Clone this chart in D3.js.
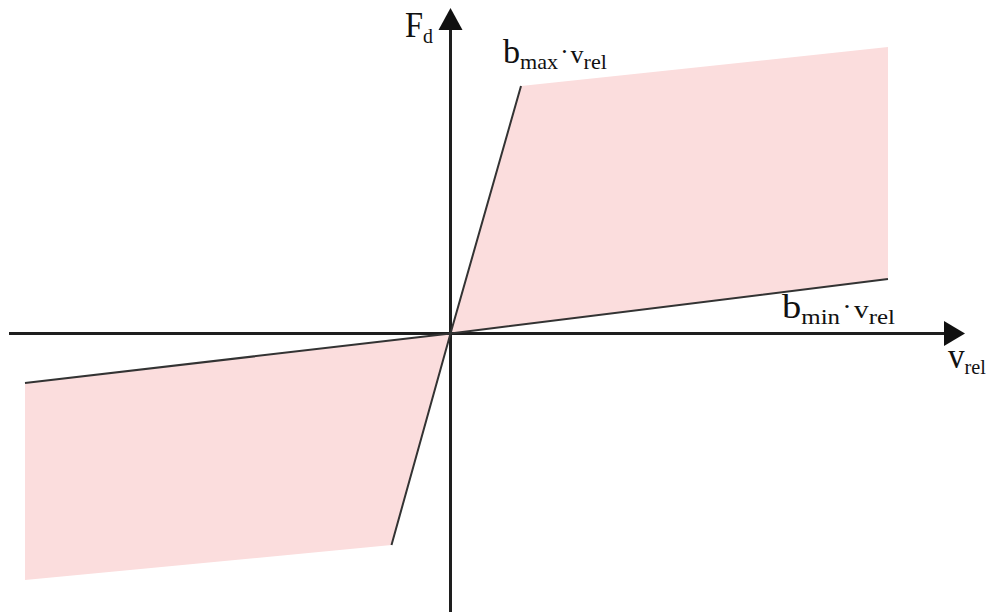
<!DOCTYPE html>
<html>
<head>
<meta charset="utf-8">
<script src="https://cdn.jsdelivr.net/npm/d3@7"></script>
<style>
  html, body { margin: 0; padding: 0; background: #fff; }
  svg { display: block; }
  text { font-family: "Liberation Serif", "Times New Roman", Times, serif; fill: #111; }
</style>
</head>
<body>
<svg id="chart" width="987" height="612"></svg>
<script>
// ---- data (schematic units: v_rel horizontal, F_d vertical) ----
const xDomain = [-4.415, 5.145];     // v_rel axis extent (arrow tip at right)
const yDomain = [-2.785, 3.255];     // F_d axis extent (arrow tip at top)
const bMaxLine = [[-0.59, -2.115], [0, 0], [0.705, 2.475]];
const bMinLine = [[-4.255, -0.495], [0, 0], [4.375, 0.545]];
const upperRegion = [[0, 0], [0.705, 2.475], [4.375, 2.865], [4.375, 0.545]];
const lowerRegion = [[0, 0], [-0.59, -2.115], [-4.255, -2.465], [-4.255, -0.495]];
// label parts: [text, role]
const labelParts = {
  Fd:   [["F", "big"], ["d", "sub"]],
  bmax: [["b", "main"], ["max", "sub"], ["·", "dot"], ["v", "v"], ["rel", "sub"]],
  bmin: [["b", "main"], ["min", "sub"], ["·", "dot"], ["v", "v"], ["rel", "sub"]],
  vrel: [["v", "big"], ["rel", "sub"]]
};
const labelAt = { Fd: [-0.455, 2.965], bmax: [0.525, 2.705], bmin: [3.315, 0.155], vrel: [4.975, -0.345] };

const svg = d3.select("#chart");
const x = d3.scaleLinear().domain(xDomain).range([9, 965]);
const y = d3.scaleLinear().domain(yDomain).range([612, 8]);
const line = d3.line().x(d => x(d[0])).y(d => y(d[1]));

// shaded regions
[upperRegion, lowerRegion].forEach(r => {
  svg.append("path").attr("d", line(r) + "Z")
    .attr("fill", "#fbdddd").attr("stroke", "none");
});

// axes
svg.append("line")
  .attr("x1", x(xDomain[0])).attr("x2", x(xDomain[1]) - 10)
  .attr("y1", y(0)).attr("y2", y(0))
  .attr("stroke", "#1e1e1e").attr("stroke-width", 3);
svg.append("line")
  .attr("x1", x(0)).attr("x2", x(0))
  .attr("y1", y(yDomain[0])).attr("y2", y(yDomain[1]) + 10)
  .attr("stroke", "#1e1e1e").attr("stroke-width", 3);
const xt = x(xDomain[1]), yt = y(yDomain[1]);
svg.append("path")
  .attr("d", `M${xt},${y(0)} L${xt - 21},${y(0) - 12.5} L${xt - 21},${y(0) + 12.5} Z`)
  .attr("fill", "#111");
svg.append("path")
  .attr("d", `M${x(0)},${yt} L${x(0) - 12},${yt + 22} L${x(0) + 12},${yt + 22} Z`)
  .attr("fill", "#111");

// b_max and b_min lines
[bMaxLine, bMinLine].forEach(l => {
  svg.append("path").attr("d", line(l))
    .attr("fill", "none").attr("stroke", "#333").attr("stroke-width", 2);
});

// labels
const roleStyle = {
  main: { size: 34, dy: 0 },
  big:  { size: 36, dy: 0 },
  sub:  { size: 22, dy: 6 },
  dot:  { size: 25, dy: -3 },
  v:    { size: 26, dy: 0 }
};
const targetWidth = { Fd: 28, bmax: 104, bmin: 113, vrel: 38 };
Object.keys(labelParts).forEach(id => {
  const g = svg.append("g");
  const t = g.append("text");
  labelParts[id].forEach(([txt, role]) => {
    const st = roleStyle[role];
    t.append("tspan").attr("font-size", st.size).attr("y", st.dy)
      .attr("dx", role === "dot" ? 2 : (role === "v" ? 2 : 0))
      .text(txt);
  });
  const w = t.node().getBBox().width;
  const sx = targetWidth[id] / w;
  g.attr("transform", `translate(${x(labelAt[id][0])},${y(labelAt[id][1])}) scale(${sx},1)`);
});
</script>
</body>
</html>
